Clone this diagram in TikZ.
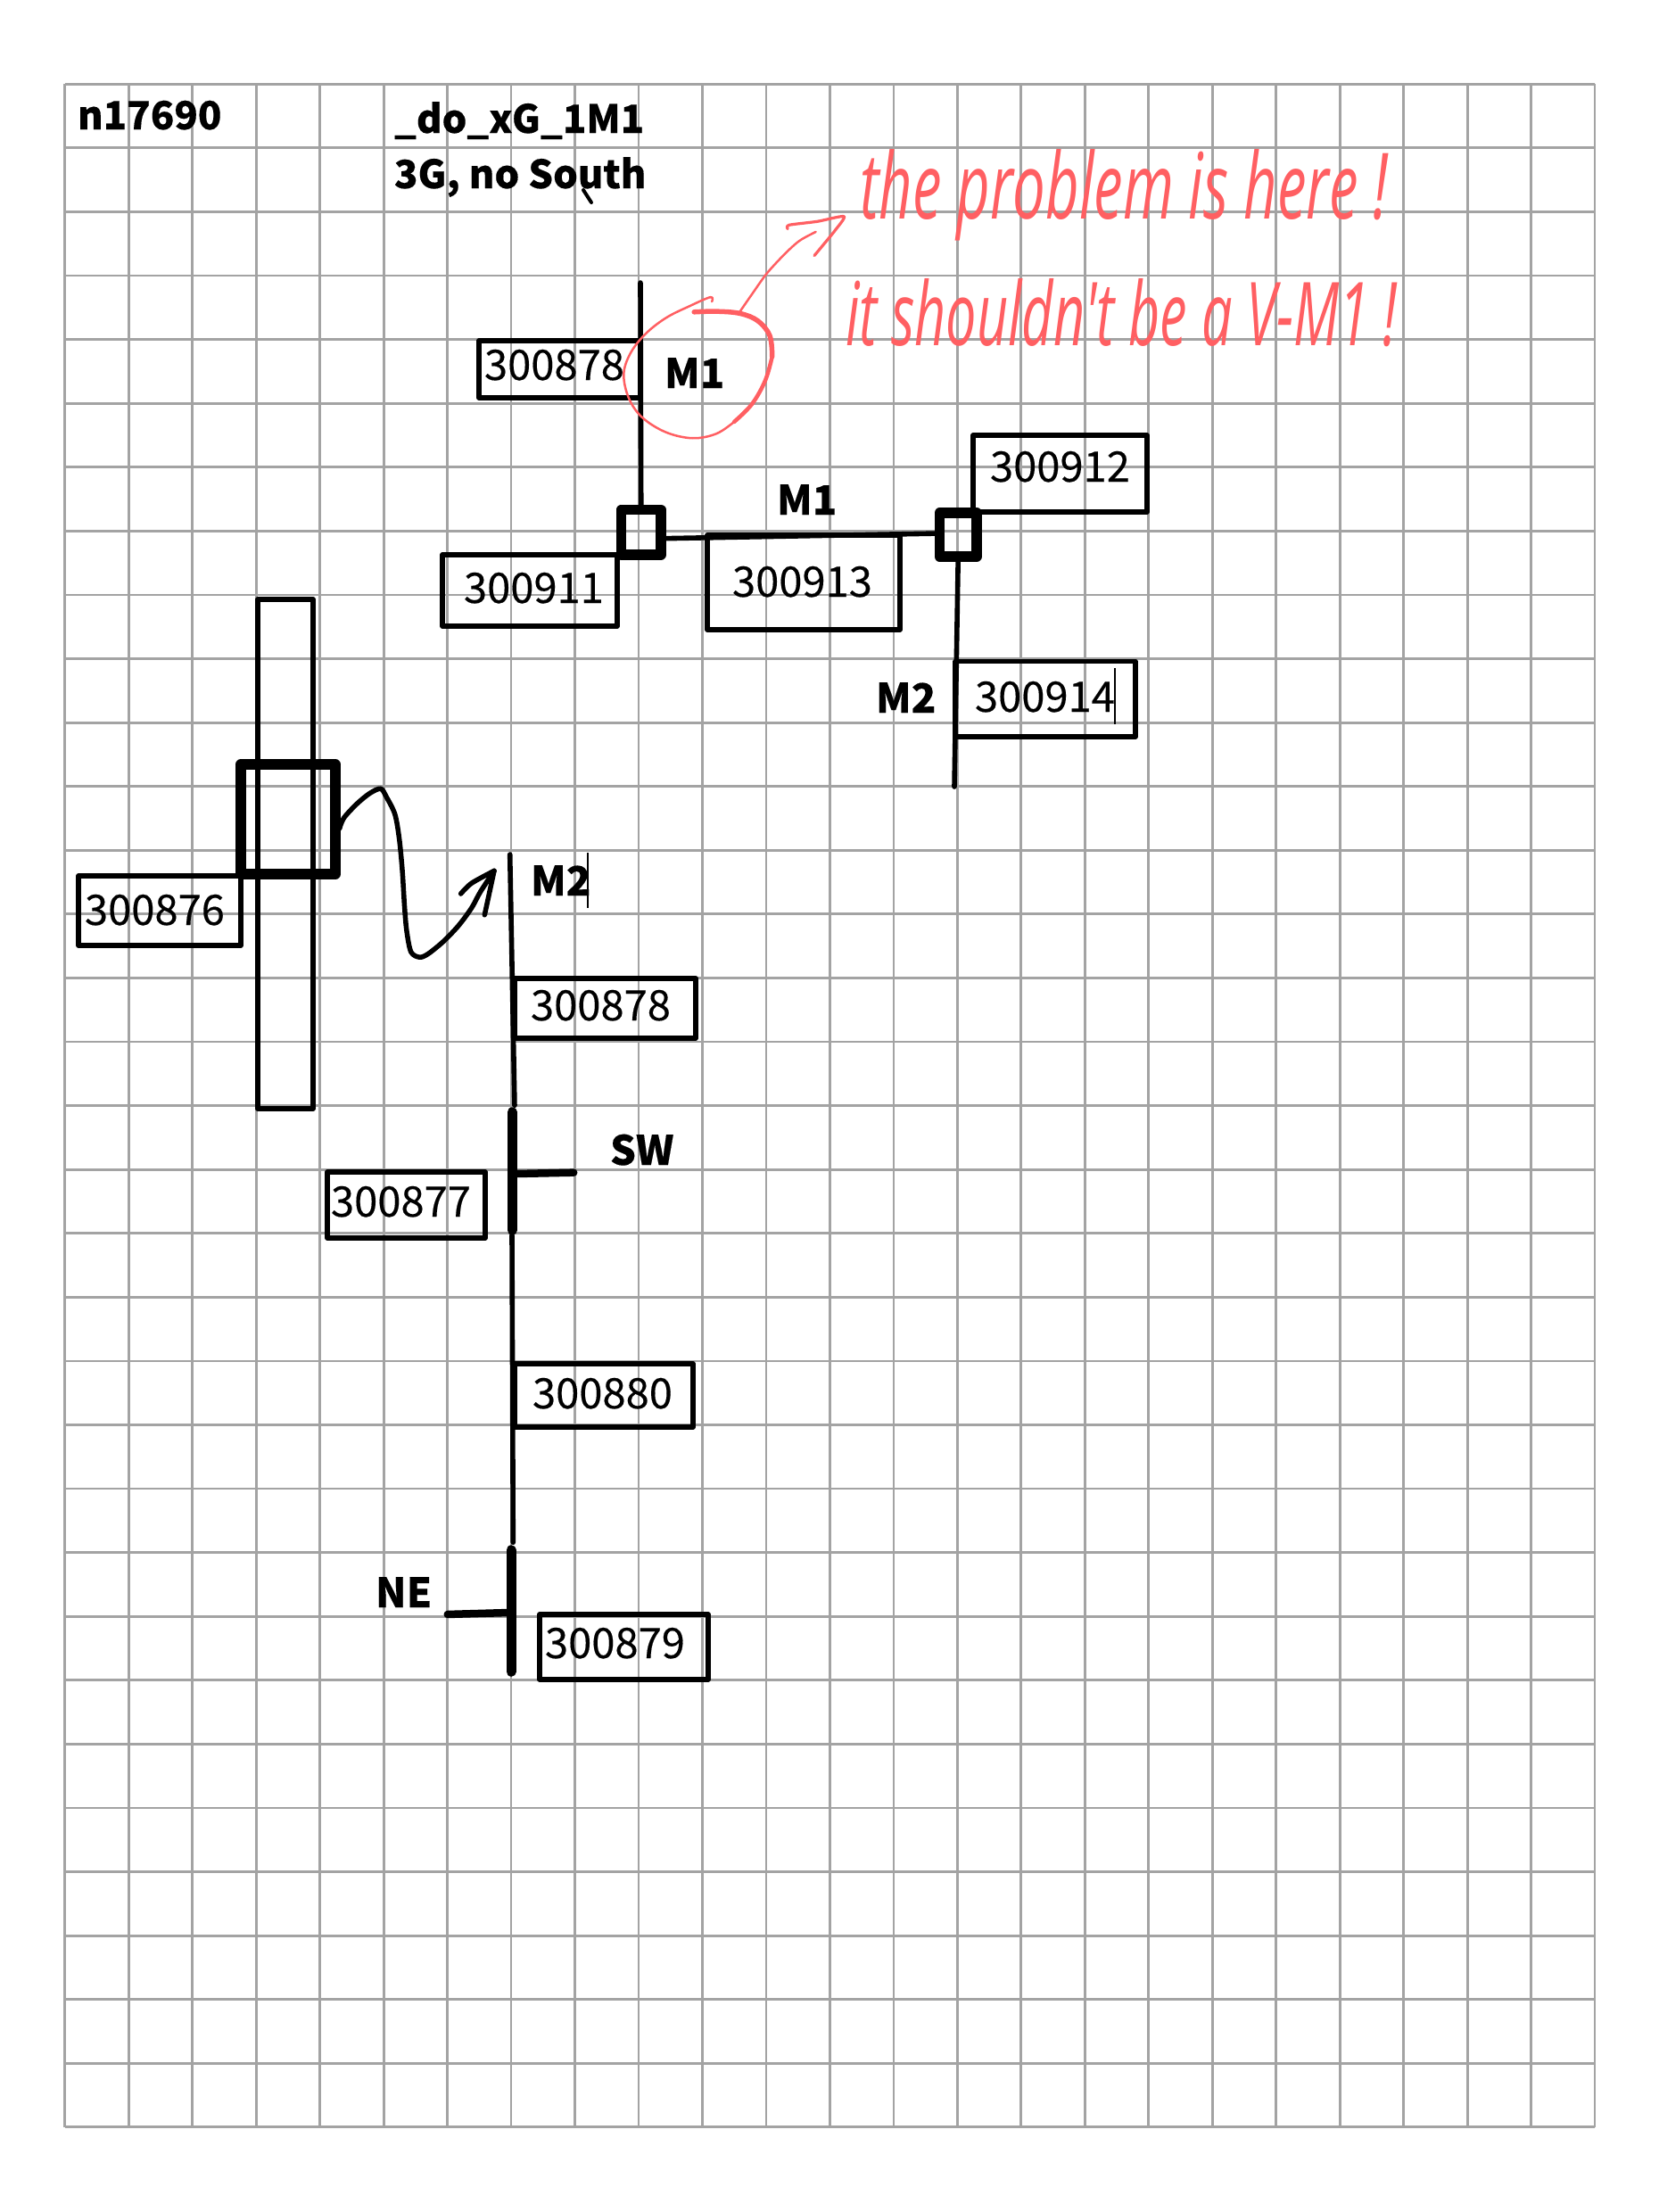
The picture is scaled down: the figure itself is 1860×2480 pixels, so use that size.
\documentclass[tikz,border=0pt]{standalone}
\usepackage{fontspec}
\newfontfamily\lblfont[FakeBold=0.25]{Noto Sans CJK SC}
\newfontfamily\boldfont{Noto Sans CJK SC Bold}
\newfontfamily\handfont{Open Sans}
\definecolor{gridgray}{HTML}{A3A3A3}
\definecolor{redpen}{HTML}{FF5F62}
\tikzset{
  every node/.style={inner sep=0pt, outer sep=0pt},
  gridline/.style={draw=gridgray, line width=0.028cm},
  wire/.style={draw=black, line width=0.056cm, line cap=round},
  labelbox/.style={draw=black, line width=0.056cm, line join=round, fill=none},
  labeltext/.style={anchor=base west, font=\lblfont\fontsize{13.4}{15}\selectfont},
  boldtext/.style={anchor=base west, font=\lblfont\bfseries\fontsize{12.9}{15}\selectfont},
  titletext/.style={anchor=base west, font=\lblfont\bfseries\fontsize{12.4}{15}\selectfont},
  junction/.style={draw=black, line width=0.115cm, line join=round},
  bar/.style={draw=black, line width=0.11cm, line cap=round},
  stub/.style={draw=black, line width=0.085cm, line cap=round},
  cursorline/.style={draw=black, line width=0.016cm},
  pen/.style={draw=redpen, line width=0.04cm, line cap=round, line join=round},
  handarrow/.style={line width=0.055cm, line cap=round, line join=round},
  handtext/.style={anchor=base west, text=redpen},
}
% name, x1, y1, x2, y2, text x, text baseline, text
\newcommand{\lab}[8]{%
  \node[labelbox, minimum width={(#4-#2)*0.01cm}, minimum height={(#5-#3)*0.01cm}] (#1) at ({(#2+#4)/2},{(#3+#5)/2}) {};
  \node[labeltext] (#1t) at (#6-2,#7) {#8};
}
\newcommand{\jun}[5]{%
  \node[junction, minimum width={(#4-#2)*0.01cm}, minimum height={(#5-#3)*0.01cm}] (#1) at ({(#2+#4)/2},{(#3+#5)/2}) {};
}
\begin{document}
\begin{tikzpicture}[x=0.01cm,y=-0.01cm]
\useasboundingbox (0,0) rectangle (1860,2480);
\fill[white] (0,0) rectangle (1860,2480);
% grid
\foreach \i in {0,...,24} \draw[gridline] ({72.8+\i*71.47},94.3) -- ({72.8+\i*71.47},2385);
\foreach \j in {0,...,32} \draw[gridline] (72.8,{94.3+\j*71.58}) -- (1788,{94.3+\j*71.58});

% titles
\node[titletext] (title) at (87,145) {n17690};
\node[titletext] (fn) at (442,149) {\_do\_xG\_1M1};
\node[titletext] (sub) at (442,211) {3G, no South};
\draw[line width=0.04cm, line cap=round] (654,213) -- (663,227);

% top structure
\lab{bA}{537}{382}{718}{446}{545}{426}{300878}
\jun{j1}{696.5}{571.5}{741}{622}
\jun{j2}{1053.5}{575}{1095}{624}
\lab{bB}{496}{622}{692}{702}{522}{676}{300911}
\lab{bC}{793}{600}{1009}{706}{823}{669}{300913}
\lab{bD}{1091}{488}{1286}{574}{1112}{540}{300912}
\lab{bE}{1071}{741.5}{1273}{826}{1095}{798}{300914}
\node[boldtext] (m1a) at (745,435) {M1};
\node[boldtext] (m1b) at (871,577) {M1};
\node[boldtext] (m2a) at (982,799) {M2};
\coordinate (topend) at (718,317);
\coordinate (botend) at (1070,882);
\draw[wire] (topend) -- (j1.north);
\draw[wire] ([yshift=-0.07cm]j1.east) -- ([yshift=0.015cm]j2.west);
\draw[wire] (j2.south) -- (botend);
\coordinate (curT) at (1250,749);
\coordinate (curB) at (1250,812);
\draw[cursorline] (curT) -- (curB);

% left structure
\node[labelbox, minimum width=0.62cm, minimum height=5.71cm] (tall) at (320,957.5) {};
\jun{big}{270}{857}{376}{980}
\lab{bF}{88}{982}{270}{1060}{97}{1037}{300876}

% lower column
\coordinate (m2top) at (571.7,958);
\node (swpt) at (574.3,1245) {};
\node (swbot) at (574.3,1381) {};
\node (swmid) at (578,1316) {};
\node (swend) at (645,1314.6) {};
\node (nept) at (573,1736) {};
\node (nebot) at (573,1876) {};
\node (nemid) at (570,1808) {};
\node (neend) at (500,1810) {};
\node (gapa) at (577,1241) {};
\node (gapb) at (574,1383) {};
\node (gapc) at (575.3,1731) {};
\draw[wire] (m2top) -- (gapa);
\draw[wire] (gapb) -- (gapc);
\draw[bar] (swpt) -- (swbot);
\draw[stub] (swmid) -- (swend);
\draw[bar] (nept) -- (nebot);
\draw[stub] (nemid) -- (neend);
\lab{bG}{577}{1097}{780}{1164}{597}{1144}{300878}
\lab{bH}{367}{1314}{544}{1388}{373}{1364}{300877}
\lab{bI}{577}{1529}{777}{1600}{599}{1579}{300880}
\lab{bJ}{605}{1810}{794}{1883}{613}{1859}{300879}
\node[boldtext] (m2b) at (595,1004) {M2};
\node[boldtext] (sw) at (684,1306) {SW};
\node[boldtext] (ne) at (421,1802) {NE};
\coordinate (cur2T) at (659,956);
\coordinate (cur2B) at (659,1018);
\draw[cursorline] (cur2T) -- (cur2B);

% black hand arrow (coordinates in zoomed crop units)
\begin{scope}[shift={(70,660)},x=0.004847cm,y=-0.003953cm]
\draw[handarrow]
  plot[smooth, tension=0.5] coordinates {(640,680)(650,650)(680,610)(710,580)(735,567)(748,590)(768,640)(778,710)(785,800)(790,900)(795,970)(805,1030)(825,1045)(845,1035)(880,1000)(915,955)(945,905)(965,860)(997,800)};
\draw[handarrow]
  plot[smooth, tension=0.5] coordinates {(920,865)(945,835)(997,800)};
\draw[handarrow] (997,800) -- (975,925);
\end{scope}

% red circle and arrow (3x crop units)
\begin{scope}[shift={(690,220)},x=0.003333cm,y=-0.003333cm]
\draw[pen, line width=0.025cm] plot[smooth, tension=0.6] coordinates {(325,355)(320,340)(250,370)(170,410)(100,465)(50,530)(28,600)(45,680)(90,745)(170,795)(260,815)(340,800)(400,760)};
\draw[pen, line width=0.045cm] plot[smooth, tension=0.6] coordinates {(400,760)(460,700)(505,620)(528,540)};
\draw[pen, line width=0.055cm] plot[smooth, tension=0.6] coordinates {(528,540)(520,470)(480,420)(420,395)(340,388)(265,390)};
\draw[pen, line width=0.025cm] plot[smooth, tension=0.5] coordinates {(415,395)(460,330)(510,260)(570,195)(620,150)(675,120)};
\draw[pen, line width=0.032cm] plot[smooth, tension=0.4] coordinates {(580,110)(585,97)(680,85)(770,68)(740,115)(695,170)(670,200)};
\end{scope}

% red annotation
\node[handtext] (hw1) at (964,245) {\resizebox{5.92cm}{0.78cm}{\handfont\itshape the problem is here !}};
\node[handtext] (hw2) at (948,387) {\resizebox{6.18cm}{0.75cm}{\handfont\itshape it shouldn't be a V-M1 !}};
\end{tikzpicture}
\end{document}
